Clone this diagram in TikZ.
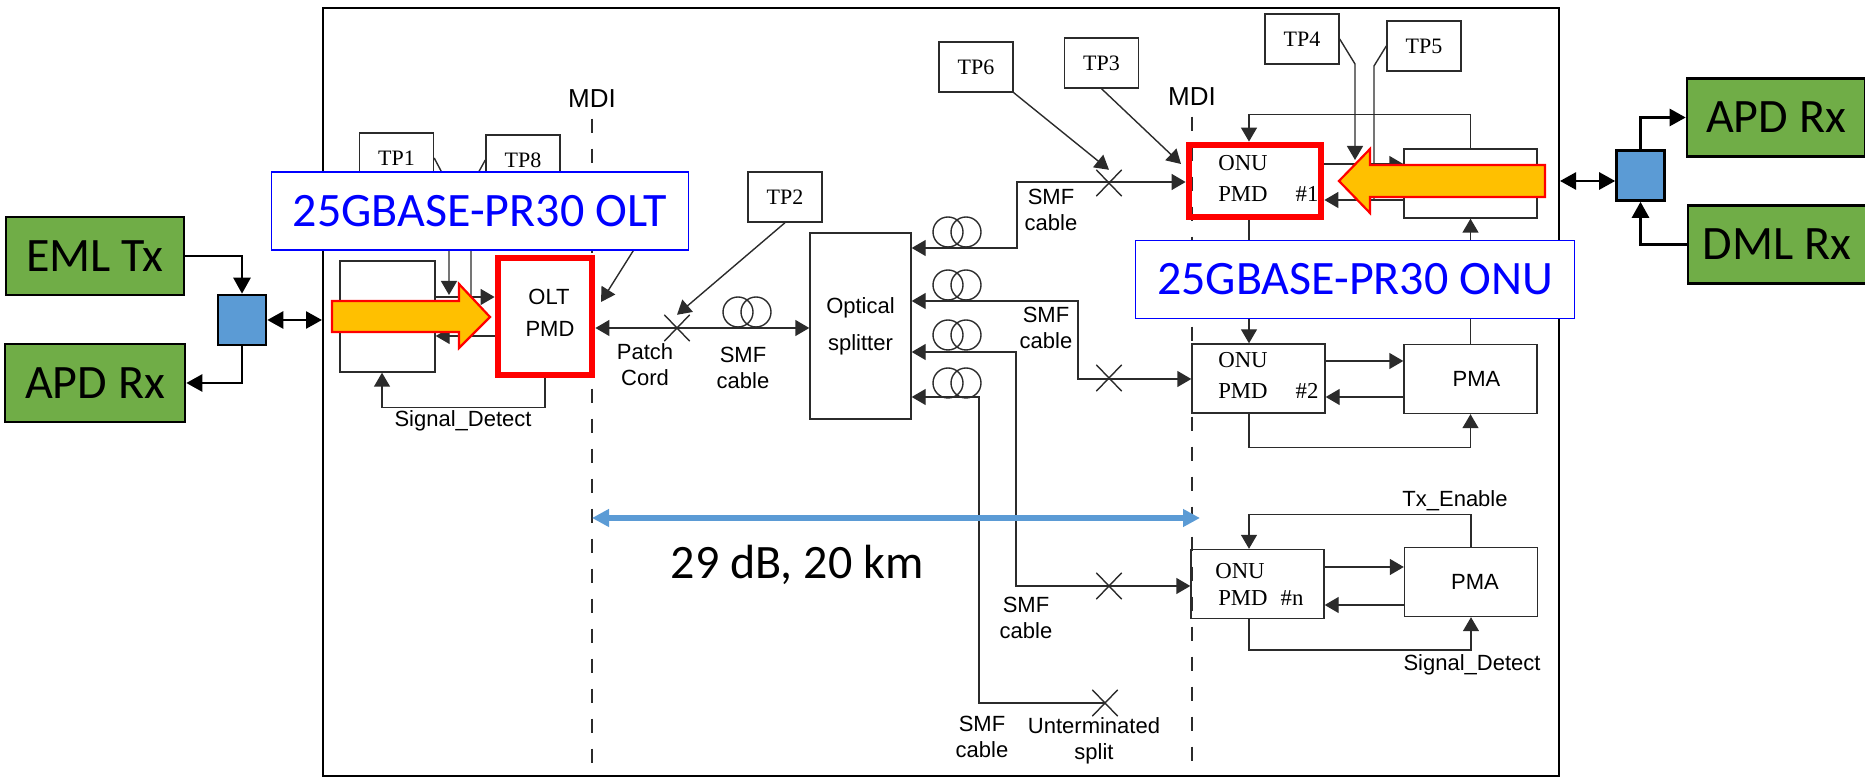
\documentclass[tikz,border=0pt]{standalone}
\usepackage{fontspec}
\setmainfont{Liberation Serif}
\setsansfont{Liberation Sans}
\newfontfamily\slidefont{Carlito}
\usetikzlibrary{arrows.meta,shapes.misc}
\definecolor{slidegreen}{HTML}{70AD47}
\definecolor{slideblue}{HTML}{5B9BD5}
\definecolor{slideorange}{HTML}{FFC000}
\definecolor{inkgray}{HTML}{2B2B2B}
\newcommand{\linkarrow}[2]{%
  \draw[->] (#1) -- (#2)}
\newcommand{\linkfiber}[4]{%
  \draw[<->] (splitter.east |- 0,#1) -| (#2,#3) -- (#4.west |- 0,#3)}
\newcommand{\leader}[3]{%
  \draw[->] (#1) -- (#2) -- (#3)}
\newcommand{\coilpair}[3]{%
  \node[coilring] (#1a) at (#2,#3) {};
  \node[coilring, xshift=9pt] (#1b) at (#2,#3) {}}

\begin{document}
\begin{tikzpicture}[
    x=0.5pt, y=-0.5pt, >={Triangle[length=7pt,width=8pt]},
    line width=0.7pt, draw=inkgray,
    tpbox/.style={draw, font=\fontsize{11}{13}\selectfont, minimum width=37pt,
    minimum height=25pt, inner sep=0pt},
    pmdbox/.style={draw, minimum width=66.5pt, minimum height=34.5pt, inner sep=0pt},
    redbox/.style={draw=red, line width=3.4pt, inner sep=0pt},
    sanslabel/.style={font=\fontsize{11}{13}\sffamily\selectfont, align=center, inner sep=0pt},
    seriflabel/.style={font=\fontsize{11.4}{13}\selectfont, inner sep=0pt},
    slidebox/.style={draw=black, line width=1.3pt, fill=slidegreen,
    font=\fontsize{24}{26}\slidefont\selectfont, minimum width=89pt,
    minimum height=39pt, inner sep=0pt},
    muxbox/.style={draw=black, line width=1.3pt, fill=slideblue, minimum width=24pt,
    minimum height=25pt, inner sep=0pt},
    namebox/.style={draw=blue, line width=0.8pt, fill=white, text=blue,
    font=\fontsize{24}{26}\slidefont\selectfont, inner sep=0pt, minimum height=39pt},
    crossmark/.style={cross out, draw, minimum width=12pt, minimum height=12.5pt,
    inner sep=0pt},
    coilring/.style={circle, draw, minimum size=15pt, inner sep=0pt},
    mdiline/.style={dash pattern=on 7pt off 8pt},
    thicklink/.style={draw=black, line width=1.3pt, >={Triangle[length=8pt,width=8.5pt]}},
    fatarrow/.style={draw=red, line width=1.1pt, fill=slideorange, line join=miter}]
  \useasboundingbox (0,0) rectangle (1865,779);

  \node[draw=black, line width=1pt, minimum width=618pt, minimum height=384pt, inner sep=0pt]
    (frame) at (941,392) {};

  \node[sanslabel, font=\fontsize{13}{15}\sffamily\selectfont] (mdileft) at (592,99) {MDI};
  \node[sanslabel, font=\fontsize{13}{15}\sffamily\selectfont] (mdiright) at (1192,97) {MDI};
  \draw[mdiline] ([yshift=-5pt]mdileft.south) -- (mdileft.south |- 0,765);
  \draw[mdiline] ([yshift=-5pt]mdiright.south) -- (mdiright.south |- 0,765);

  \node[tpbox] (tp1) at (396.5,158) {TP1};
  \node[tpbox] (tp8) at (523,160) {TP8};
  \node[tpbox] (tp2) at (785,197) {TP2};
  \node[tpbox] (tp6) at (976,67) {TP6};
  \node[tpbox] (tp3) at (1101.5,63) {TP3};
  \node[tpbox] (tp4) at (1302,39) {TP4};
  \node[tpbox] (tp5) at (1424,46) {TP5};

  \node[draw, minimum width=47.5pt, minimum height=55.5pt, inner sep=0pt]
    (oltpma) at (387.5,316.5) {};
  \node[redbox, minimum width=47pt, minimum height=58.5pt] (olt) at (545,316.5) {};
  \node[sanslabel] (oltname) at (549,297) {OLT};
  \node[sanslabel] (oltpmd) at (550,329) {PMD};
  \node[sanslabel] (oltsig) at (463,421) {Signal\_Detect};

  \coordinate (tp1bend) at (449,186);
  \coordinate (tp8bend) at (471,186);
  \coordinate (tp7from) at (640,240);
  \coordinate (tp7to) at (601,302);
  \leader{tp1.east}{tp1bend}{449,295};
  \draw (tp8.west) -- (tp8bend) -- (471,297);
  \linkarrow{tp7from}{tp7to};
  \linkarrow{oltpma.east |- 0,297}{olt.west |- 0,297};
  \linkarrow{olt.west |- 0,336}{oltpma.east |- 0,336};
  \draw[->] (olt.south) -- ++(0,29) -| (oltpma.south -| 382,0);

  \node[draw, minimum width=50.5pt, minimum height=93pt, inner sep=0pt, align=center,
    font=\fontsize{11}{18.5}\sffamily\selectfont] (splitter) at (860.5,326) {Optical\\splitter};

  \node[crossmark] (crossp) at (677,328) {};
  \coilpair{coilp}{738}{312};
  \draw[<->] (olt.east |- crossp) -- (splitter.west |- crossp);
  \linkarrow{tp2.south}{crossp.north};
  \node[sanslabel] (patch) at (645,365) {Patch\\Cord};
  \node[sanslabel] (smfp) at (743,368) {SMF\\cable};

  \node[redbox, minimum width=66pt, minimum height=36pt] (onua) at (1255,181) {};
  \node[pmdbox] (onub) at (1258.5,378.5) {};
  \node[pmdbox] (onun) at (1257.5,584) {};
  \node[pmdbox] (pmaa) at (1470.5,183.5) {};
  \node[pmdbox, font=\fontsize{11}{13}\sffamily\selectfont] (pmab) at (1470.5,379) {\hspace*{6pt}PMA};
  \node[pmdbox, font=\fontsize{11}{13}\sffamily\selectfont] (pman) at (1471,582) {\hspace*{4pt}PMA};
  \node[seriflabel] (onuatop) at (1243,163) {ONU};
  \node[seriflabel] (onuabot) at (1243,194) {PMD};
  \node[seriflabel] (onuanum) at (1307,194) {\#1};
  \node[seriflabel] (onubtop) at (1243,360) {ONU};
  \node[seriflabel] (onubbot) at (1243,391) {PMD};
  \node[seriflabel] (onubnum) at (1307,391) {\#2};
  \node[seriflabel] (onuntop) at (1240,571) {ONU};
  \node[seriflabel] (onunbot) at (1243,598) {PMD};
  \node[seriflabel] (onunnum) at (1292,598) {\#n};

  \node[crossmark] (crossa) at (1109,183) {};
  \node[crossmark] (crossb) at (1109,378) {};
  \node[crossmark] (crossn) at (1109,586) {};
  \node[crossmark] (crossu) at (1105,703) {};
  \coilpair{coila}{948}{232};
  \coilpair{coilb}{948}{285};
  \coilpair{coilc}{948}{335};
  \coilpair{coild}{948}{383};
  \linkfiber{248}{1017}{182}{onua};
  \linkfiber{301}{1078}{379}{onub};
  \linkfiber{352}{1016}{586}{onun};
  \draw[->] (crossu.center) -| (979,397) -- (splitter.east |- 0,397);

  \coordinate (tp3to) at (1181,164);
  \linkarrow{tp6.south east}{crossa.north};
  \linkarrow{tp3.south}{tp3to};
  \node[sanslabel] (smfa) at (1051,210) {SMF\\cable};
  \node[sanslabel] (smfb) at (1046,328) {SMF\\cable};
  \node[sanslabel] (smfn) at (1026,618) {SMF\\cable};
  \node[sanslabel] (smfu) at (982,737) {SMF\\cable};
  \node[sanslabel] (untermsplit) at (1094,741) {Unterminated\\split};

  \coordinate (tp4bend) at (1355,64);
  \coordinate (tp5bend) at (1374,66);
  \leader{tp4.east}{tp4bend}{1355,160};
  \draw (tp5.west) -- (tp5bend) -- (1374,200);

  \linkarrow{onua.east |- 0,164}{pmaa.west |- 0,164};
  \linkarrow{pmaa.west |- 0,200}{onua.east |- 0,200};
  \linkarrow{onub.east |- 0,361}{pmab.west |- 0,361};
  \linkarrow{pmab.west |- 0,397}{onub.east |- 0,397};
  \linkarrow{onun.east |- 0,567}{pman.west |- 0,567};
  \linkarrow{pman.west |- 0,605}{onun.east |- 0,605};

  \draw[->] (pmaa.north) -- ++(0,-34) -| (onua.north -| 1249,0);
  \draw[->] (onua.south -| 1249,0) -- ++(0,33) -| (pmaa.south);
  \draw[->] (pmab.north) -- ++(0,-33) -| (onub.north -| 1249,0);
  \draw[->] (onub.south -| 1249,0) -- ++(0,34) -| (pmab.south);
  \draw[->] (pman.north) -- ++(0,-32) -| (onun.north -| 1249,0);
  \draw[->] (onun.south -| 1249,0) -- ++(0,31) -| (pman.south);
  \node[sanslabel] (txenable) at (1455,501) {Tx\_Enable};
  \node[sanslabel] (onusig) at (1472,665) {Signal\_Detect};

  \draw[<->, draw=slideblue, line width=2.8pt,
    >={Triangle[length=8.5pt,width=8.5pt]}] (592,518) -- (1200,518);
  \node[font=\fontsize{24}{26}\slidefont\selectfont, inner sep=0pt] (budget) at (797,565) {29 dB, 20 km};

  \draw[fatarrow] (332,301) -- (459,301) -- (459,284) -- (490,317) -- (459,348) -- (459,332) -- (332,332) -- cycle;
  \draw[fatarrow] (1545,165) -- (1370,165) -- (1370,149) -- (1339,181) -- (1370,213) -- (1370,197) -- (1545,197) -- cycle;

  \node[namebox, minimum width=208.5pt] (oltlabel) at (480,211) {25GBASE-PR30 OLT};
  \node[namebox, minimum width=219.5pt] (onulabel) at (1355,279.5) {25GBASE-PR30 ONU};

  \node[slidebox] (emltx) at (95,256) {EML Tx};
  \node[slidebox, minimum width=90pt] (apdleft) at (95,383) {APD Rx};
  \node[slidebox] (apdright) at (1776,117.5) {APD Rx};
  \node[slidebox] (dmlrx) at (1777,244.5) {DML Rx};
  \node[muxbox] (muxleft) at (242,320) {};
  \node[muxbox] (muxright) at (1640.5,175.5) {};

  \draw[->, thicklink] (emltx.east) -| (muxleft.north);
  \draw[->, thicklink] (muxleft.south) |- (apdleft.east);
  \draw[<->, thicklink] (muxleft.east) -- (frame.west |- muxleft.east);
  \draw[<->, thicklink] (frame.east |- 0,181) -- (muxright.west |- 0,181);
  \draw[->, thicklink] (muxright.north) |- (apdright.west);
  \draw[->, thicklink] (dmlrx.west) -| (muxright.south);
\end{tikzpicture}
\end{document}
